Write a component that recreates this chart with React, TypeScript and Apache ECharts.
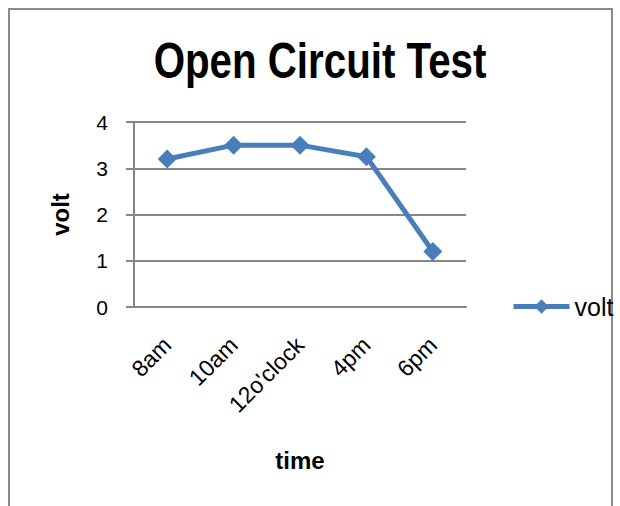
import React, { useEffect, useRef } from "react";
import * as echarts from "echarts";

const categories = ["8am", "10am", "12o'clock", "4pm", "6pm"];
const voltValues = [3.2, 3.5, 3.5, 3.25, 1.2];
const seriesName = "volt";
const titleText = "Open Circuit Test";
const xAxisName = "time";
const yAxisName = "volt";

export default function App() {
  const ref = useRef<HTMLDivElement>(null);
  useEffect(() => {
    document.body.style.margin = "0";
    const chart = echarts.init(ref.current!, null, { renderer: "svg" });
    const font = "'Liberation Sans', Arial, sans-serif";
    const blue = "#4A7EBB";
    chart.setOption({
      animation: false,
      backgroundColor: "#ffffff",
      graphic: [
        {
          type: "rect",
          shape: { x: 9, y: 9, width: 603, height: 520 },
          style: { fill: "none", stroke: "#8a8a8a", lineWidth: 2 },
          silent: true,
        },
        {
          type: "text",
          x: 320,
          y: 61,
          scaleX: 0.806,
          style: {
            text: titleText,
            x: 0,
            y: 0,
            font: "bold 50px 'Liberation Sans', Arial, sans-serif",
            fill: "#000",
            textAlign: "center",
            textVerticalAlign: "middle",
          },
          silent: true,
        },
      ],
      legend: {
        data: [seriesName],
        left: 506,
        top: 289,
        itemWidth: 56,
        itemHeight: 18,
        lineStyle: { width: 5, color: blue },
        itemStyle: { color: blue },
        textStyle: { fontFamily: font, fontSize: 25, color: "#000" },
      },
      grid: { left: 134, right: 154, top: 122, bottom: 199, containLabel: false },
      xAxis: {
        type: "category",
        data: categories,
        boundaryGap: true,
        name: xAxisName,
        nameLocation: "middle",
        nameGap: 141,
        nameTextStyle: { fontFamily: font, fontWeight: "bold", fontSize: 24, color: "#000" },
        axisLine: { lineStyle: { color: "#868686", width: 2 } },
        axisTick: { show: false },
        axisLabel: {
          rotate: 45,
          margin: 34,
          fontFamily: font,
          fontSize: 23,
          color: "#000",
        },
      },
      yAxis: {
        type: "value",
        min: 0,
        max: 4,
        interval: 1,
        name: yAxisName,
        nameLocation: "middle",
        nameGap: 62,
        nameTextStyle: { fontFamily: font, fontWeight: "bold", fontSize: 24, color: "#000" },
        axisLine: { show: true, lineStyle: { color: "#868686", width: 2 } },
        axisTick: { show: true, length: 8, lineStyle: { color: "#868686", width: 2 } },
        splitLine: { lineStyle: { color: "#868686", width: 2 } },
        axisLabel: { margin: 26, fontFamily: font, fontSize: 21, color: "#000" },
      },
      series: [
        {
          name: seriesName,
          type: "line",
          data: voltValues,
          symbol: "diamond",
          symbolSize: 19,
          color: blue,
          lineStyle: { width: 5, color: blue },
          itemStyle: { color: blue },
        },
      ],
    });
    return () => chart.dispose();
  }, []);
  return <div ref={ref} style={{ width: 620, height: 506 }} />;
}
